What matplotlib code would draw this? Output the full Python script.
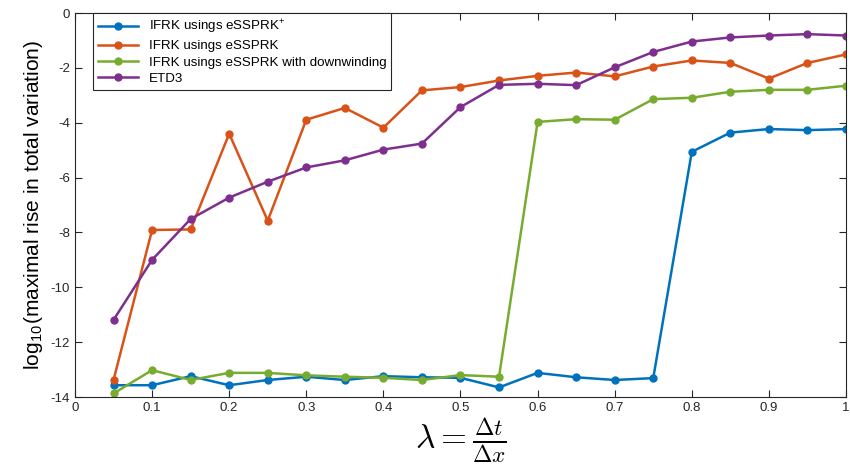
import matplotlib
matplotlib.use('Agg')
import matplotlib.pyplot as plt
import numpy as np

plt.rcParams['font.family'] = ['Liberation Sans', 'DejaVu Sans']
plt.rcParams['mathtext.fontset'] = 'cm'
plt.rcParams['axes.unicode_minus'] = False

lam = [0.05, 0.1, 0.15, 0.2, 0.25, 0.3, 0.35, 0.4, 0.45, 0.5,
       0.55, 0.6, 0.65, 0.7, 0.75, 0.8, 0.85, 0.9, 0.95, 1.0]

essprk_plus = [-13.57, -13.57, -13.24, -13.57, -13.38, -13.26, -13.38, -13.24, -13.28, -13.30,
               -13.65, -13.12, -13.28, -13.38, -13.31, -5.06, -4.36, -4.23, -4.27, -4.23]
essprk = [-13.38, -7.91, -7.89, -4.40, -7.57, -3.89, -3.46, -4.18, -2.82, -2.70,
          -2.46, -2.29, -2.17, -2.31, -1.95, -1.73, -1.82, -2.39, -1.82, -1.51]
essprk_down = [-13.87, -13.02, -13.38, -13.12, -13.12, -13.21, -13.26, -13.30, -13.38, -13.20,
               -13.26, -3.97, -3.87, -3.89, -3.14, -3.09, -2.87, -2.80, -2.80, -2.65]
etd3 = [-11.19, -9.00, -7.51, -6.73, -6.15, -5.63, -5.37, -4.98, -4.76, -3.43,
        -2.62, -2.58, -2.63, -1.98, -1.42, -1.04, -0.89, -0.82, -0.77, -0.82]

labels = [r'IFRK usings eSSPRK$^{\mathregular{+}}$', 'IFRK usings eSSPRK',
          'IFRK usings eSSPRK with downwinding', 'ETD3']
colors = ['#0072BD', '#D95319', '#77AC30', '#7E2F8E']

fig = plt.figure(figsize=(8.5, 4.65), dpi=100)
ax = fig.add_axes([0.0882, 0.1462, 0.9071, 0.8258])

for y, lab, c in zip([essprk_plus, essprk, essprk_down, etd3], labels, colors):
    ax.plot(lam, y, '-o', color=c, lw=1.8, ms=5, label=lab)

ax.set_xlim(0, 1)
ax.set_ylim(-14, 0)
ax.set_xticks(np.arange(0, 1.01, 0.1))
ax.set_xticklabels(['0', '0.1', '0.2', '0.3', '0.4', '0.5', '0.6', '0.7', '0.8', '0.9', '1'])
ax.set_yticks(np.arange(-14, 0.1, 2))
ax.tick_params(direction='in', top=True, right=True, labelsize=9.5, colors='#262626', length=5)
for s in ax.spines.values():
    s.set_color('#262626')
    s.set_linewidth(0.8)

ax.set_ylabel(r'log$_{\mathregular{10}}$(maximal rise in total variation)', fontsize=15)
ax.set_xlabel(r'$\lambda = \frac{\Delta t}{\Delta x}$', fontsize=24, labelpad=2)

leg = ax.legend(loc='upper left', fontsize=9.6, fancybox=False, framealpha=1,
                edgecolor='#262626', borderaxespad=0.0, handlelength=3.0,
                labelspacing=0.3, borderpad=0.35, bbox_to_anchor=(0.024, 1.0))
leg.get_frame().set_linewidth(0.8)

plt.savefig('out.png', dpi=100)
